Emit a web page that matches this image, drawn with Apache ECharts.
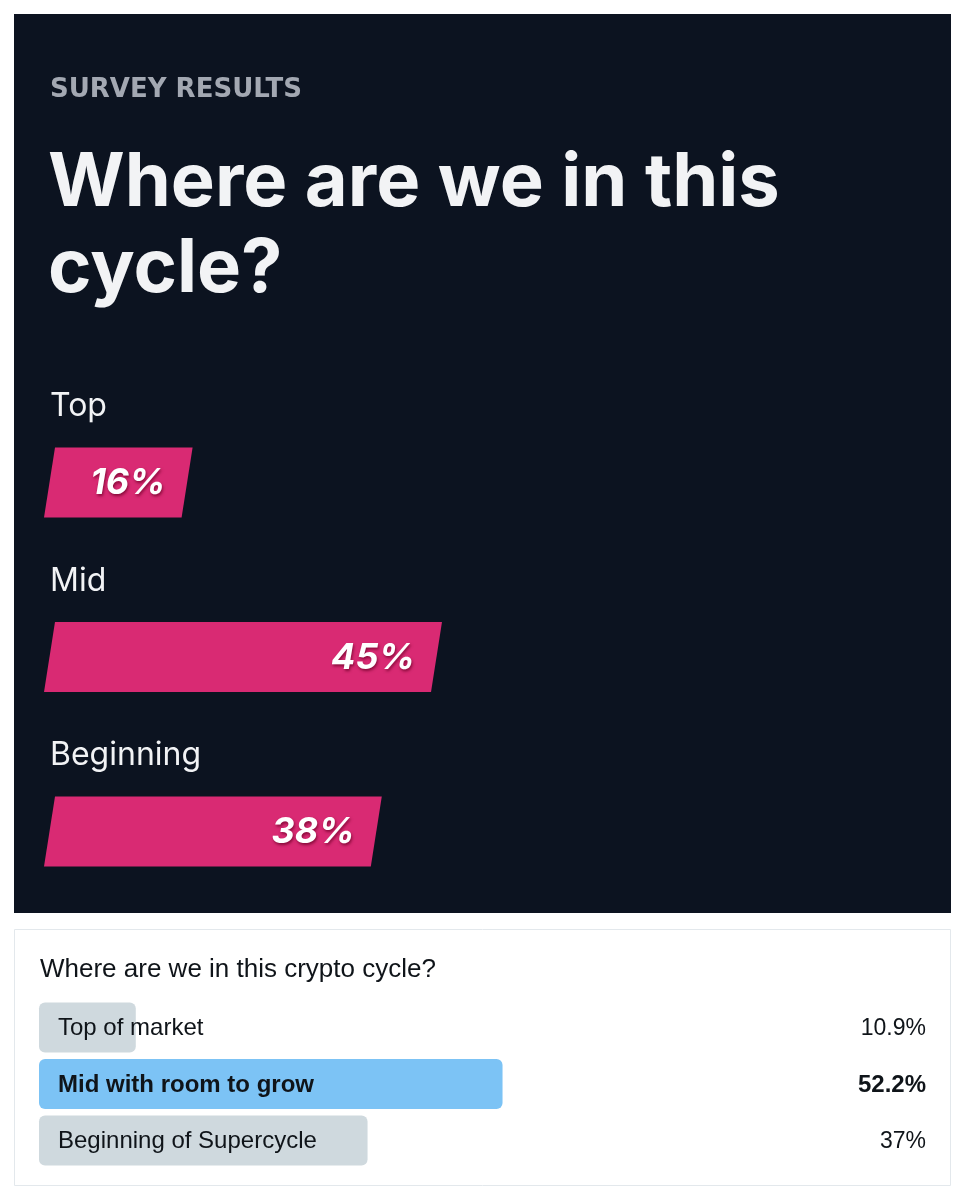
<!DOCTYPE html>
<html>
<head>
<meta charset="utf-8">
<script src="https://cdn.jsdelivr.net/npm/echarts@6/dist/echarts.min.js"></script>
<style>
html,body{margin:0;padding:0;background:#ffffff;}
#chart{width:965px;height:1200px;}
</style>
</head>
<body>
<div id="chart"></div>
<script>
// ---- Data ----
const surveyCategories = ['Top', 'Mid', 'Beginning'];
const surveyValues = [16, 45, 38];
const pollCategories = ['Top of market', 'Mid with room to grow', 'Beginning of Supercycle'];
const pollValues = [10.9, 52.2, 37];

const chart = echarts.init(document.getElementById('chart'), null, {renderer: 'canvas'});

const TITLE_FONT = 'Inter, "Noto Sans", sans-serif';
const POLL_FONT = '"Liberation Sans", Arial, sans-serif';
const pollMax = Math.max.apply(null, pollValues);

const option = {
  animation: false,
  backgroundColor: '#ffffff',
  graphic: [
    {type: 'rect', z: -10, shape: {x: 14, y: 14, width: 937, height: 899}, style: {fill: '#0c1320'}},
    {type: 'rect', z: -10, shape: {x: 14.5, y: 929.5, width: 936, height: 256}, style: {fill: '#ffffff', stroke: '#e3e8ec', lineWidth: 1}},
    {type: 'text', z: 5, style: {text: 'SURVEY RESULTS', x: 50, y: 77, verticalAlign: 'top', fill: '#a3a8b2', font: 'bold 26px "DejaVu Sans", ' + TITLE_FONT}},
    {type: 'text', z: 5, style: {text: 'Where are we in this', x: 48, y: 147, verticalAlign: 'top', fill: '#f2f3f5', font: 'bold 74px ' + TITLE_FONT}},
    {type: 'text', z: 5, style: {text: 'cycle?', x: 48, y: 233, verticalAlign: 'top', fill: '#f2f3f5', font: 'bold 74px ' + TITLE_FONT}},
    {type: 'text', z: 5, style: {text: 'Where are we in this crypto cycle?', x: 40, y: 957, verticalAlign: 'top', fill: '#0f1419', font: '26px ' + POLL_FONT}}
  ],
  grid: [
    {left: 49.5, width: 860, top: 395.25, height: 523.5},
    {left: 39, width: 888, top: 999.25, height: 169.5}
  ],
  xAxis: [
    {type: 'value', gridIndex: 0, min: 0, max: 100, show: false},
    {type: 'value', gridIndex: 1, min: 0, max: 100, show: false}
  ],
  yAxis: [
    {type: 'category', gridIndex: 0, data: surveyCategories, inverse: true, show: false},
    {type: 'category', gridIndex: 1, data: pollCategories, inverse: true, show: false}
  ],
  series: [
    {
      type: 'custom',
      xAxisIndex: 0, yAxisIndex: 0,
      data: surveyValues.map((v, i) => [v, i]),
      renderItem: function (params, api) {
        const v = api.value(0), c = api.value(1);
        const p0 = api.coord([0, c]);
        const p1 = api.coord([v, c]);
        const h = 70, s = 5.5;
        const top = p0[1] - h / 2, bot = p0[1] + h / 2;
        return {
          type: 'group',
          children: [
            {type: 'polygon', shape: {points: [[p0[0] + s, top], [p1[0] + s, top], [p1[0] - s, bot], [p0[0] - s, bot]]}, style: {fill: '#d92a73'}},
            {type: 'text', style: {text: v + '%', x: p1[0] - 21.5, y: p1[1] + 1, align: 'right', verticalAlign: 'middle', fill: '#ffffff', font: 'italic bold 36px ' + TITLE_FONT, textShadowColor: 'rgba(110,0,40,0.75)', textShadowBlur: 3, textShadowOffsetX: 1, textShadowOffsetY: 2}},
            {type: 'text', style: {text: surveyCategories[c], x: 50, y: top - 57, align: 'left', verticalAlign: 'top', fill: '#f2f3f5', font: '32px ' + TITLE_FONT}}
          ]
        };
      }
    },
    {
      type: 'custom',
      xAxisIndex: 1, yAxisIndex: 1,
      data: pollValues.map((v, i) => [v, i]),
      renderItem: function (params, api) {
        const v = api.value(0), c = api.value(1);
        const p0 = api.coord([0, c]);
        const p1 = api.coord([v, c]);
        const pEnd = api.coord([100, c]);
        const h = 50;
        const win = v === pollMax;
        return {
          type: 'group',
          children: [
            {type: 'rect', shape: {x: p0[0], y: p0[1] - h / 2, width: p1[0] - p0[0], height: h, r: 6}, style: {fill: win ? '#7cc3f5' : '#cfd9de'}},
            {type: 'text', style: {text: pollCategories[c], x: p0[0] + 19, y: p0[1] + 1, align: 'left', verticalAlign: 'middle', fill: '#0f1419', font: (win ? 'bold ' : '') + '24px ' + POLL_FONT}},
            {type: 'text', style: {text: v + '%', x: pEnd[0] - 1, y: p0[1] + 1, align: 'right', verticalAlign: 'middle', fill: '#0f1419', font: (win ? 'bold 24px ' : '23px ') + POLL_FONT}}
          ]
        };
      }
    }
  ]
};
chart.setOption(option);
</script>
</body>
</html>
